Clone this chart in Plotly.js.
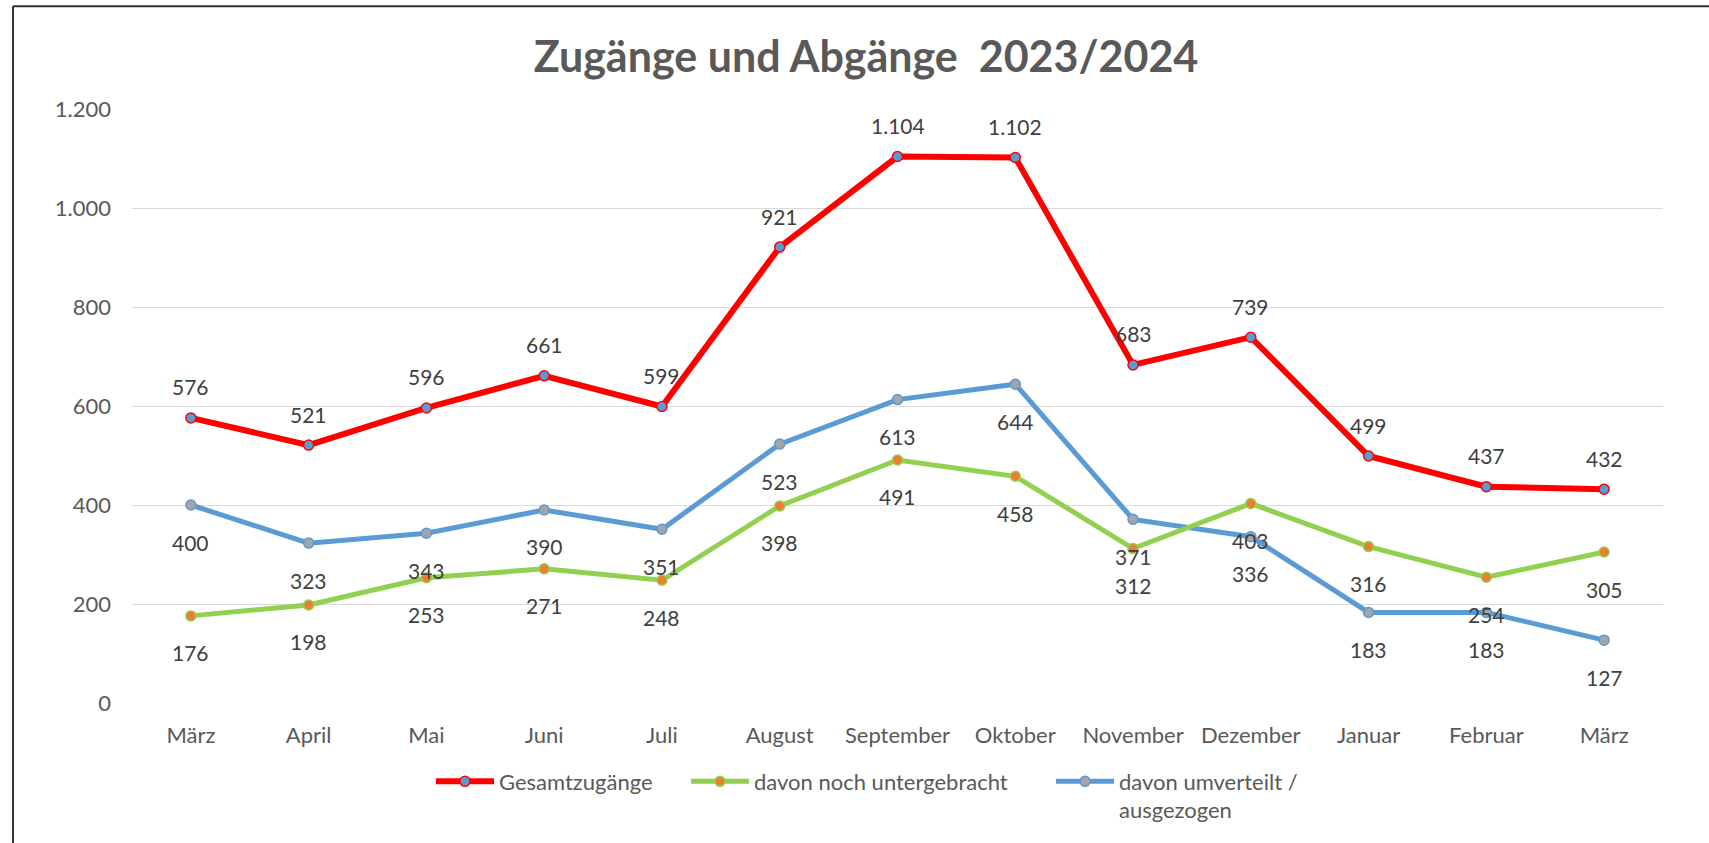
<!DOCTYPE html>
<html>
<head>
<meta charset="utf-8">
<script src="https://cdn.plot.ly/plotly-3.0.1.min.js"></script>
<style>
  html, body { margin: 0; padding: 0; background: #ffffff; }
  #chart { width: 1709px; height: 843px; }
</style>
</head>
<body>
<div id="chart"></div>
<script>
// ---- data ----
const categories = ['März', 'April', 'Mai', 'Juni', 'Juli', 'August', 'September', 'Oktober', 'November', 'Dezember', 'Januar', 'Februar', 'März'];
const gesamtzugaenge = [576, 521, 596, 661, 599, 921, 1104, 1102, 683, 739, 499, 437, 432];
const nochUntergebracht = [176, 198, 253, 271, 248, 398, 491, 458, 312, 403, 316, 254, 305];
const umverteilt = [400, 323, 343, 390, 351, 523, 613, 644, 371, 336, 183, 183, 127];
const seriesNames = ['Gesamtzugänge', 'davon noch untergebracht', 'davon umverteilt /<br>ausgezogen'];
const yTicks = [0, 200, 400, 600, 800, 1000, 1200];
const titleText = 'Zugänge und Abgänge  2023/2024';

// ---- layout constants ----
const W = 1709, H = 843;
const M = { l: 132, r: 46, t: 109, b: 135 };
const plotW = W - M.l - M.r, plotH = H - M.t - M.b;
const px2x = p => (p - M.l) / plotW;
const py2y = p => (H - M.b - p) / plotH;

const FONT = 'Lato, "Open Sans", sans-serif';
const ITEMW = 58;
const idx = categories.map((_, i) => i);
const fmt = v => String(v).replace(/\B(?=(\d{3})+(?!\d))/g, '.');

function trace(vals, name, lineColor, markerColor, lw, legendId) {
  return {
    type: 'scatter', mode: 'lines+markers', x: idx, y: vals, name: name,
    legend: legendId,
    line: { color: lineColor, width: lw },
    marker: { size: 10, color: markerColor, line: { color: lineColor, width: 1.5 } },
    hoverinfo: 'x+y'
  };
}

const data = [
  trace(umverteilt, seriesNames[2], '#5B9BD5', '#A5A5A5', 5, 'legend3'),
  trace(nochUntergebracht, seriesNames[1], '#92D050', '#ED7D31', 5, 'legend2'),
  trace(gesamtzugaenge, seriesNames[0], '#FF0000', '#5B9BD5', 6, 'legend')
];

function labels(vals, shift) {
  return vals.map((v, i) => ({
    x: idx[i], y: v, xref: 'x', yref: 'y', text: fmt(v), showarrow: false,
    yshift: shift, font: { family: FONT, size: 21, color: '#404040' }
  }));
}
const annotations = [].concat(
  labels(gesamtzugaenge, 31),
  labels(nochUntergebracht, -37),
  labels(umverteilt, -37)
);

function legendAt(textStartPx) {
  return {
    x: px2x(textStartPx - ITEMW - 10), xanchor: 'left',
    y: py2y(766), yanchor: 'top', valign: 'top',
    itemwidth: ITEMW,
    bgcolor: 'rgba(0,0,0,0)', borderwidth: 0,
    font: { family: FONT, size: 22, color: '#595959' }
  };
}

const borderY = py2y(5.5), borderX = px2x(13);

const layout = {
  width: W, height: H,
  margin: M,
  paper_bgcolor: '#ffffff', plot_bgcolor: '#ffffff',
  separators: ',.',
  showlegend: true,
  title: {
    text: titleText, xref: 'container', yref: 'container',
    x: 866 / W, xanchor: 'center', y: 1 - 57 / H, yanchor: 'middle',
    font: { family: FONT, size: 43, weight: 'bold', color: '#595959' }
  },
  xaxis: {
    range: [-0.5, categories.length - 0.5],
    tickmode: 'array', tickvals: idx, ticktext: categories,
    showgrid: false, zeroline: false, showline: false, ticks: '',
    ticklabelstandoff: 17,
    tickfont: { family: FONT, size: 22, color: '#595959' },
    fixedrange: true
  },
  yaxis: {
    range: [0, 1200], tickmode: 'array', tickvals: yTicks, tickformat: ',d',
    showgrid: true, gridcolor: '#d9d9d9', gridwidth: 1.3,
    zeroline: false, showline: false, ticks: '',
    ticklabelstandoff: 20,
    tickfont: { family: FONT, size: 22, color: '#595959' },
    fixedrange: true
  },
  legend: legendAt(499),
  legend2: legendAt(754),
  legend3: legendAt(1119),
  annotations: annotations,
  shapes: [
    { type: 'line', xref: 'paper', yref: 'paper', x0: borderX, x1: 1.05, y0: borderY, y1: borderY,
      line: { color: '#333333', width: 2 } },
    { type: 'line', xref: 'paper', yref: 'paper', x0: borderX, x1: borderX, y0: borderY, y1: -0.3,
      line: { color: '#333333', width: 2 } }
  ]
};

Plotly.newPlot('chart', data, layout, { displayModeBar: false, staticPlot: false });
</script>
</body>
</html>
